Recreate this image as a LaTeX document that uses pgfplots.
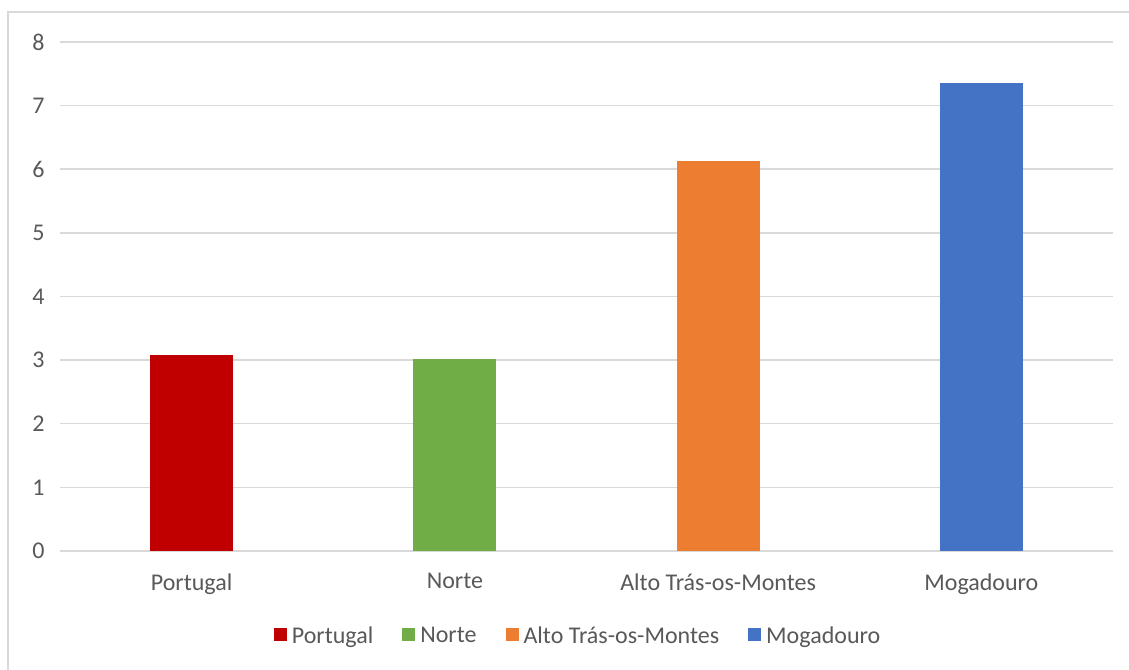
\documentclass[border=0pt]{standalone}
\usepackage{pgfplots}
\pgfplotsset{compat=1.18}
\usepackage{fontspec}
\setmainfont{Carlito}
\definecolor{txt}{HTML}{595959}
\definecolor{grd}{HTML}{D9D9D9}
\definecolor{cPT}{HTML}{C00000}
\definecolor{cN}{HTML}{70AD47}
\definecolor{cA}{HTML}{ED7D31}
\definecolor{cM}{HTML}{4472C4}
\begin{document}
\begin{tikzpicture}[x=1pt,y=1pt]
\path[use as bounding box] (0,0) rectangle (1129,669);
\fill[white] (0,0) rectangle (1129,669);
\draw[grd, line width=1.5pt] (8,-5) -- (8,657) -- (1135,657);
\begin{axis}[
  at={(60pt,118pt)}, anchor=south west,
  scale only axis, width=1053pt, height=509pt,
  xmin=-0.5, xmax=3.5, ymin=0, ymax=8,
  ytick={0,1,...,8},
  xtick={0,1,2,3},
  xticklabels={Portugal,Norte,Alto Trás-os-Montes,Mogadouro},
  axis line style={draw=none},
  major tick length=0pt,
  ymajorgrids, grid style={grd, line width=1.5pt},
  tick label style={font=\fontsize{24}{28}\selectfont, text=txt},
  /pgf/number format/assume math mode=true,
  yticklabel style={xshift=-12pt},
  xticklabel style={yshift=-19pt},
  ybar, bar width=83pt, bar shift=0pt,
  legend style={at={(0.492,-0.166)}, anchor=center, draw=none, fill=none,
    font=\fontsize{24}{28}\selectfont, text=txt,
    legend columns=4,
    /tikz/every odd column/.append style={column sep=3pt},
    /tikz/every even column/.append style={column sep=27pt}},
  legend image code/.code={\fill[#1] (0pt,-6pt) rectangle (13pt,7pt);},
]
\addplot[fill=cPT, draw=none] coordinates {(0,3.08)};
\addplot[fill=cN, draw=none] coordinates {(1,3.02)};
\addplot[fill=cA, draw=none] coordinates {(2,6.13)};
\addplot[fill=cM, draw=none] coordinates {(3,7.35)};
\legend{Portugal,Norte,Alto Trás-os-Montes,Mogadouro}
\end{axis}
\end{tikzpicture}
\end{document}
